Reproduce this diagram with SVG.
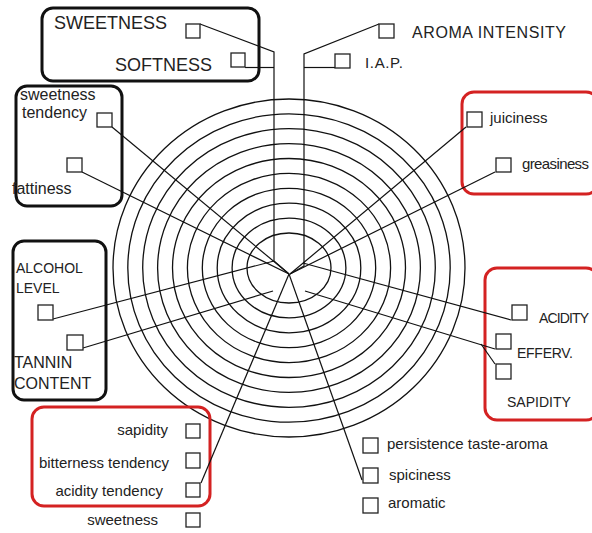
<svg xmlns="http://www.w3.org/2000/svg" width="592" height="533" viewBox="0 0 592 533">
<style>
.bg{fill:#ffffff}
.ring{fill:none;stroke:#111;stroke-width:1.3}
.ln{fill:none;stroke:#111;stroke-width:1.2}
.sq{fill:#fff;stroke:#222;stroke-width:1.3}
.bk{fill:none;stroke:#111;stroke-width:3}
.rd{fill:none;stroke:#d42222;stroke-width:3}
text{font-family:"Liberation Sans",Arial,sans-serif;fill:#222}
.big{font-size:18px}
.m{font-size:15px}
.s{font-size:14px}
.l{font-size:16px}
.e{text-anchor:end}
</style>
<rect class="bg" x="0" y="0" width="592" height="533"/>
<g id="rings">
<ellipse class="ring" cx="289" cy="268" rx="42" ry="35"/>
<ellipse class="ring" cx="289" cy="268" rx="56.9" ry="49.9"/>
<ellipse class="ring" cx="289" cy="268" rx="71.8" ry="64.8"/>
<ellipse class="ring" cx="289" cy="268" rx="86.7" ry="79.7"/>
<ellipse class="ring" cx="289" cy="268" rx="101.6" ry="94.6"/>
<ellipse class="ring" cx="289" cy="268" rx="116.5" ry="109.5"/>
<ellipse class="ring" cx="289" cy="268" rx="131.4" ry="124.4"/>
<ellipse class="ring" cx="289" cy="268" rx="146.3" ry="139.3"/>
<ellipse class="ring" cx="289" cy="268" rx="161.2" ry="154.2"/>
<ellipse class="ring" cx="289" cy="268" rx="176" ry="169"/>
</g>
<g id="groups">
<rect id="box-sweetness" class="bk" x="42" y="8" width="217" height="73" rx="11"/>
<rect id="box-sweet-tendency" class="bk" x="16" y="86" width="106" height="120" rx="11"/>
<rect id="box-alcohol" class="bk" x="13" y="241" width="93" height="159" rx="11"/>
<rect id="box-juiciness" class="rd" x="462" y="92" width="136" height="102" rx="12"/>
<rect id="box-acidity" class="rd" x="485" y="268" width="113" height="152" rx="12"/>
<rect id="box-sapidity-low" class="rd" x="32" y="407" width="178" height="99" rx="12"/>
</g>
<g id="connectors">
<polyline class="ln" points="200,24 274,52 274,261 289,274"/>
<polyline class="ln" points="245,67.5 274,67.5"/>
<polyline class="ln" points="379,24 304,54 304,266 290,274"/>
<polyline class="ln" points="335,67.5 304,67.5"/>
<line class="ln" x1="466" y1="127" x2="290" y2="274"/>
<line class="ln" x1="495" y1="172" x2="290" y2="274"/>
<line class="ln" x1="112" y1="127" x2="289" y2="274"/>
<line class="ln" x1="82" y1="172" x2="289" y2="274"/>
<line class="ln" x1="53" y1="319" x2="274" y2="261"/>
<line class="ln" x1="83" y1="348" x2="273" y2="291"/>
<line class="ln" x1="303" y1="263" x2="511" y2="320"/>
<line class="ln" x1="305" y1="291" x2="495" y2="349"/>
<line class="ln" x1="481" y1="344" x2="495" y2="364"/>
<line class="ln" x1="289" y1="274" x2="201" y2="483"/>
<line class="ln" x1="289" y1="274" x2="362" y2="480"/>
</g>
<g id="n-sweetness"><text class="big" x="54" y="29">SWEETNESS</text><rect class="sq" x="186" y="24" width="14" height="14"/></g>
<g id="n-softness"><text class="big" x="115" y="71">SOFTNESS</text><rect class="sq" x="231" y="53" width="14" height="14"/></g>
<g id="n-aroma"><rect class="sq" x="379" y="24" width="15" height="14"/><text class="l" x="412" y="38" textLength="154">AROMA INTENSITY</text></g>
<g id="n-iap"><rect class="sq" x="335" y="54" width="15" height="14"/><text class="m" x="365" y="68" textLength="38">I.A.P.</text></g>
<g id="n-juiciness"><rect class="sq" x="467" y="112" width="15" height="15"/><text class="m" x="490" y="123">juiciness</text></g>
<g id="n-greasiness"><rect class="sq" x="496" y="158" width="15" height="14"/><text class="m" x="522" y="169" textLength="67">greasiness</text></g>
<g id="n-sweet-tendency"><text class="l" x="20" y="100">sweetness</text><text class="l" x="22" y="118">tendency</text><rect class="sq" x="97" y="113" width="15" height="14"/></g>
<g id="n-fattiness"><rect class="sq" x="67" y="158" width="15" height="14"/><text class="l" x="12" y="194">fattiness</text></g>
<g id="n-alcohol"><text class="s" x="16" y="273">ALCOHOL</text><text class="s" x="16" y="293">LEVEL</text><rect class="sq" x="38" y="305" width="15" height="15"/></g>
<g id="n-tannin"><rect class="sq" x="67" y="335" width="16" height="15"/><text class="l" x="14" y="368">TANNIN</text><text class="l" x="14" y="389">CONTENT</text></g>
<g id="n-acidity"><rect class="sq" x="512" y="305" width="15" height="15"/><text class="s" x="539" y="323" textLength="50">ACIDITY</text></g>
<g id="n-efferv"><rect class="sq" x="496" y="334" width="15" height="15"/><text class="s" x="517" y="358" textLength="56">EFFERV.</text></g>
<g id="n-sapidity"><rect class="sq" x="496" y="364" width="15" height="15"/><text class="s" x="507" y="407">SAPIDITY</text></g>
<g id="n-sapidity-low"><text class="m e" x="168" y="435">sapidity</text><rect class="sq" x="186" y="424" width="14" height="14"/></g>
<g id="n-bitterness"><text class="m e" x="169" y="468">bitterness tendency</text><rect class="sq" x="186" y="453" width="14" height="15"/></g>
<g id="n-acidity-tendency"><text class="m e" x="163" y="496">acidity tendency</text><rect class="sq" x="186" y="483" width="14" height="14"/></g>
<g id="n-sweetness-low"><text class="m e" x="158" y="525">sweetness</text><rect class="sq" x="186" y="513" width="14" height="14"/></g>
<g id="n-persistence"><rect class="sq" x="363" y="438" width="15" height="15"/><text class="m" x="387" y="449">persistence  taste-aroma</text></g>
<g id="n-spiciness"><rect class="sq" x="363" y="468" width="15" height="15"/><text class="m" x="389" y="480">spiciness</text></g>
<g id="n-aromatic"><rect class="sq" x="363" y="498" width="15" height="15"/><text class="m" x="388" y="508">aromatic</text></g>
</svg>
